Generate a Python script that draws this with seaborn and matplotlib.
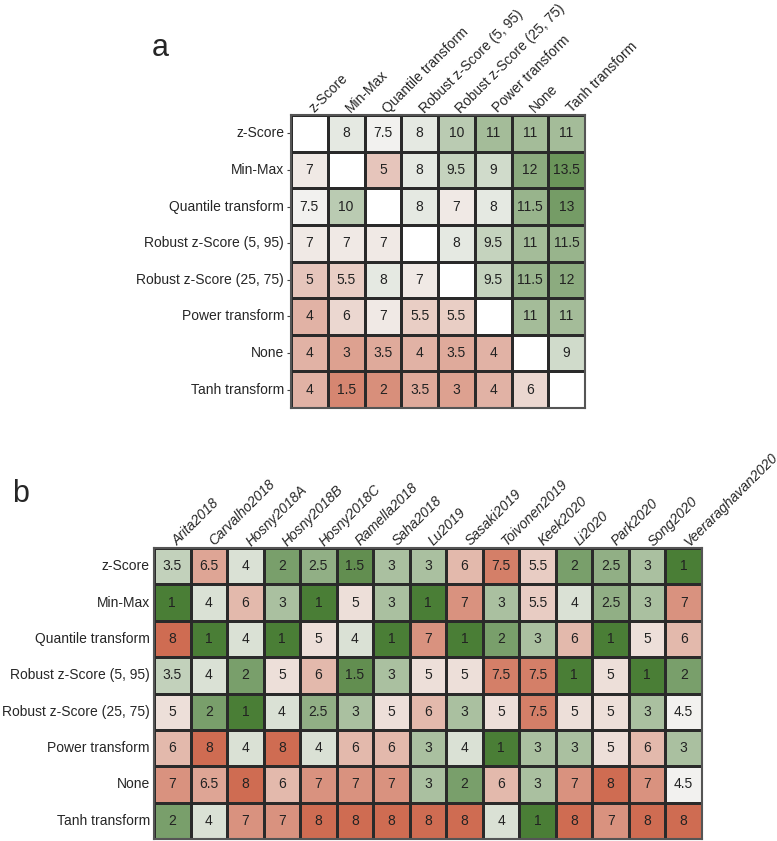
import numpy as np
import pandas as pd
import matplotlib
matplotlib.use('Agg')
import matplotlib.pyplot as plt
import matplotlib.transforms as mtransforms
import seaborn as sns
from matplotlib.colors import LinearSegmentedColormap

nan = np.nan

# Normalisierungsmethoden (Zeilen in beiden Panels)
methods = ['z-Score', 'Min-Max', 'Quantile transform', 'Robust z-Score (5, 95)',
           'Robust z-Score (25, 75)', 'Power transform', 'None', 'Tanh transform']

# Studien (Spalten in Panel b)
studies = ['Arita2018', 'Carvalho2018', 'Hosny2018A', 'Hosny2018B', 'Hosny2018C',
           'Ramella2018', 'Saha2018', 'Lu2019', 'Sasaki2019', 'Toivonen2019',
           'Keek2020', 'Li2020', 'Park2020', 'Song2020', 'Veeraraghavan2020']

# Panel a: paarweiser Vergleich, Diagonale leer
a_zscore   = [nan, 8, 7.5, 8, 10, 11, 11, 11]
a_minmax   = [7, nan, 5, 8, 9.5, 9, 12, 13.5]
a_quantile = [7.5, 10, nan, 8, 7, 8, 11.5, 13]
a_rob595   = [7, 7, 7, nan, 8, 9.5, 11, 11.5]
a_rob2575  = [5, 5.5, 8, 7, nan, 9.5, 11.5, 12]
a_power    = [4, 6, 7, 5.5, 5.5, nan, 11, 11]
a_none     = [4, 3, 3.5, 4, 3.5, 4, nan, 9]
a_tanh     = [4, 1.5, 2, 3.5, 3, 4, 6, nan]

# Panel b: Rang je Studie
b_zscore   = [3.5, 6.5, 4, 2, 2.5, 1.5, 3, 3, 6, 7.5, 5.5, 2, 2.5, 3, 1]
b_minmax   = [1, 4, 6, 3, 1, 5, 3, 1, 7, 3, 5.5, 4, 2.5, 3, 7]
b_quantile = [8, 1, 4, 1, 5, 4, 1, 7, 1, 2, 3, 6, 1, 5, 6]
b_rob595   = [3.5, 4, 2, 5, 6, 1.5, 3, 5, 5, 7.5, 7.5, 1, 5, 1, 2]
b_rob2575  = [5, 2, 1, 4, 2.5, 3, 5, 6, 3, 5, 7.5, 5, 5, 3, 4.5]
b_power    = [6, 8, 4, 8, 4, 6, 6, 3, 4, 1, 3, 3, 5, 6, 3]
b_none     = [7, 6.5, 8, 6, 7, 7, 7, 3, 2, 6, 3, 7, 8, 7, 4.5]
b_tanh     = [2, 4, 7, 7, 8, 8, 8, 8, 8, 4, 1, 8, 7, 8, 8]

df_a = pd.DataFrame([a_zscore, a_minmax, a_quantile, a_rob595, a_rob2575,
                     a_power, a_none, a_tanh], index=methods, columns=methods)
df_b = pd.DataFrame([b_zscore, b_minmax, b_quantile, b_rob595, b_rob2575,
                     b_power, b_none, b_tanh], index=methods, columns=studies)

sns.set_style('white')
plt.rcParams['font.family'] = ['Liberation Sans', 'DejaVu Sans']

# rot -> weiss -> gruen
cmap_rg = LinearSegmentedColormap.from_list('rg', ['#cf6c52', '#f2f2f0', '#4a7e36'])

fig = plt.figure(figsize=(7.77, 8.41), dpi=100)
W, H = 777, 841

def px_axes(x0, y0, x1, y1):
    return fig.add_axes([x0 / W, 1 - y1 / H, (x1 - x0) / W, (y1 - y0) / H])

def shift_labels(labels, dx, dy):
    off = mtransforms.ScaledTranslation(dx / 100, dy / 100, fig.dpi_scale_trans)
    for lab in labels:
        lab.set_transform(lab.get_transform() + off)

grid_col = '#2a2a2a'
txt_col = '#222222'

# ---- Panel a ----
ax_a = px_axes(291, 115, 585, 408)
sns.heatmap(df_a, ax=ax_a, cmap=cmap_rg, vmin=1, vmax=15, center=7.5,
            annot=True, fmt='g', cbar=False, square=False,
            linewidths=1.0, linecolor=grid_col,
            annot_kws={'fontsize': 10, 'color': txt_col})
ax_a.hlines(np.arange(len(methods) + 1), 0, len(methods), color=grid_col, lw=1.0)
ax_a.vlines(np.arange(len(methods) + 1), 0, len(methods), color=grid_col, lw=1.0)
ax_a.xaxis.tick_top()
ax_a.set_xticklabels(methods, rotation=45, ha='left', va='bottom',
                     rotation_mode='anchor', fontsize=10)
ax_a.set_yticklabels(methods, rotation=0, fontsize=10)
ax_a.tick_params(axis='x', length=0, pad=1)
ax_a.tick_params(axis='y', length=3, width=0.8, color='#444', pad=2, left=True)
shift_labels(ax_a.get_xticklabels(), 7, -2)
ax_a.set_xlabel('')
ax_a.set_ylabel('')
for s in ax_a.spines.values():
    s.set_visible(True)
    s.set_color('#555555')
    s.set_linewidth(1.5)

# ---- Panel b ----
ax_b = px_axes(154, 548, 702, 839)
sns.heatmap(df_b, ax=ax_b, cmap=cmap_rg.reversed(), vmin=1, vmax=8, center=4.5,
            annot=True, fmt='g', cbar=False, square=False,
            linewidths=1.0, linecolor=grid_col,
            annot_kws={'fontsize': 10, 'color': txt_col})
ax_b.xaxis.tick_top()
ax_b.set_xticklabels(studies, rotation=45, ha='left', va='bottom',
                     rotation_mode='anchor', fontsize=10, style='italic')
ax_b.set_yticklabels(methods, rotation=0, fontsize=10)
ax_b.tick_params(axis='x', length=0, pad=1)
ax_b.tick_params(axis='y', length=0, pad=3)
shift_labels(ax_b.get_xticklabels(), 8, -2)
ax_b.set_xlabel('')
ax_b.set_ylabel('')
for s in ax_b.spines.values():
    s.set_visible(True)
    s.set_color('#555555')
    s.set_linewidth(1.5)

# Panelbuchstaben
fig.text(160 / W, 1 - 48 / H, 'a', fontsize=22, ha='center', va='center')
fig.text(21 / W, 1 - 494 / H, 'b', fontsize=22, ha='center', va='center')

fig.savefig('out.png', dpi=100)
